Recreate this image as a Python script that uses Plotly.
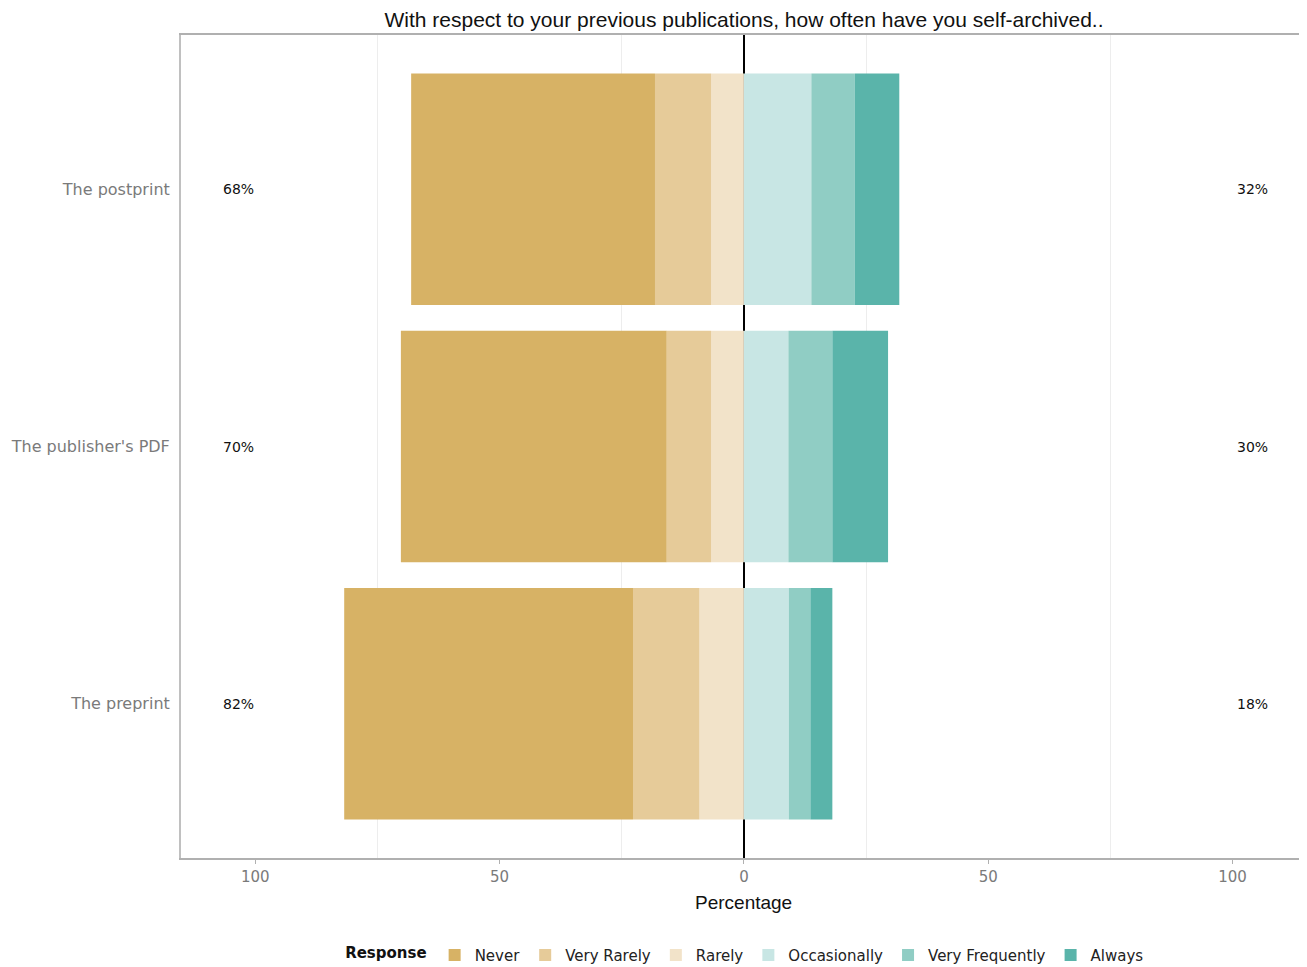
import plotly.graph_objects as go

categories = ["The preprint", "The publisher's PDF", "The postprint"]
responses = ["Never", "Very Rarely", "Rarely", "Occasionally", "Very Frequently", "Always"]
colors = ["#D7B265", "#E6CB99", "#F2E3C9", "#C8E6E4", "#90CDC4", "#5AB4AA"]

never = [59.1, 54.4, 49.9]
very_rarely = [13.6, 9.1, 11.5]
rarely = [9.1, 6.7, 6.7]
occasionally = [9.2, 9.1, 13.8]
very_frequently = [4.4, 9.0, 8.9]
always = [4.5, 11.4, 9.1]

left_labels = ["82%", "70%", "68%"]
right_labels = ["18%", "30%", "32%"]

series = {
    "Never": never,
    "Very Rarely": very_rarely,
    "Rarely": rarely,
    "Occasionally": occasionally,
    "Very Frequently": very_frequently,
    "Always": always,
}
negative = {"Never", "Very Rarely", "Rarely"}

fig = go.Figure()
# negative stack order: from zero outward -> Rarely, Very Rarely, Never
draw_order = ["Rarely", "Very Rarely", "Never", "Occasionally", "Very Frequently", "Always"]
for name in draw_order:
    i = responses.index(name)
    vals = series[name]
    xs = [-v for v in vals] if name in negative else list(vals)
    fig.add_trace(go.Bar(
        y=categories, x=xs, orientation="h", name=name,
        marker=dict(color=colors[i], line=dict(width=0)),
        legendrank=i + 1, hoverinfo="name+x",
    ))

for cat, lt, rt in zip(categories, left_labels, right_labels):
    fig.add_annotation(x=-103.5, y=cat, text=lt, showarrow=False,
                       font=dict(family="DejaVu Sans", size=14, color="#111111"))
    fig.add_annotation(x=104, y=cat, text=rt, showarrow=False,
                       font=dict(family="DejaVu Sans", size=14, color="#111111"))

# x-axis title centred on the zero line
fig.add_annotation(x=0, xref="x", y=-0.0535, yref="paper", yanchor="middle",
                   text="Percentage", showarrow=False,
                   font=dict(family="Liberation Sans, Arial", size=19, color="#111111"))

fig.update_layout(
    width=1291, height=967,
    barmode="relative", bargap=0.1,
    plot_bgcolor="white", paper_bgcolor="white",
    margin=dict(l=173, r=0, t=27, b=117, autoexpand=False),
    title=dict(text="With respect to your previous publications, how often have you self-archived..",
               x=0.5701, xanchor="center", y=0.9876, yanchor="middle",
               font=dict(family="Liberation Sans, Arial", size=21, color="#111111")),
    legend=dict(orientation="h", x=0.5055, xanchor="center", y=-0.098, yanchor="top",
                title=dict(text="<b>Response</b>", font=dict(family="DejaVu Sans", size=15, color="#111111")),
                font=dict(family="DejaVu Sans", size=15, color="#222222"),
                traceorder="normal", itemsizing="constant"),
    showlegend=True,
)

fig.update_xaxes(
    range=[-115.2, 113.6],
    tickvals=[-100, -50, 0, 50, 100],
    ticktext=["100", "50", "0", "50", "100"],
    showgrid=False,
    minor=dict(tickvals=[-75, -25, 25, 75], showgrid=True, gridcolor="#ededed", gridwidth=1, ticks=""),
    zeroline=True, zerolinecolor="#000000", zerolinewidth=2,
    showline=True, linecolor="#b0b0b0", linewidth=2, mirror=True,
    ticks="outside", ticklen=4, tickcolor="#b0b0b0",
    tickfont=dict(family="DejaVu Sans", size=15, color="#7a7a7a"),
)
fig.update_yaxes(
    categoryorder="array", categoryarray=categories,
    range=[-0.6, 2.6],
    showgrid=False, zeroline=False,
    showline=True, linecolor="#c0c0c0", linewidth=2,
    ticks="", ticklabelstandoff=6,
    tickfont=dict(family="DejaVu Sans", size=16, color="#7a7a7a"),
)

fig.write_html("out.html")
